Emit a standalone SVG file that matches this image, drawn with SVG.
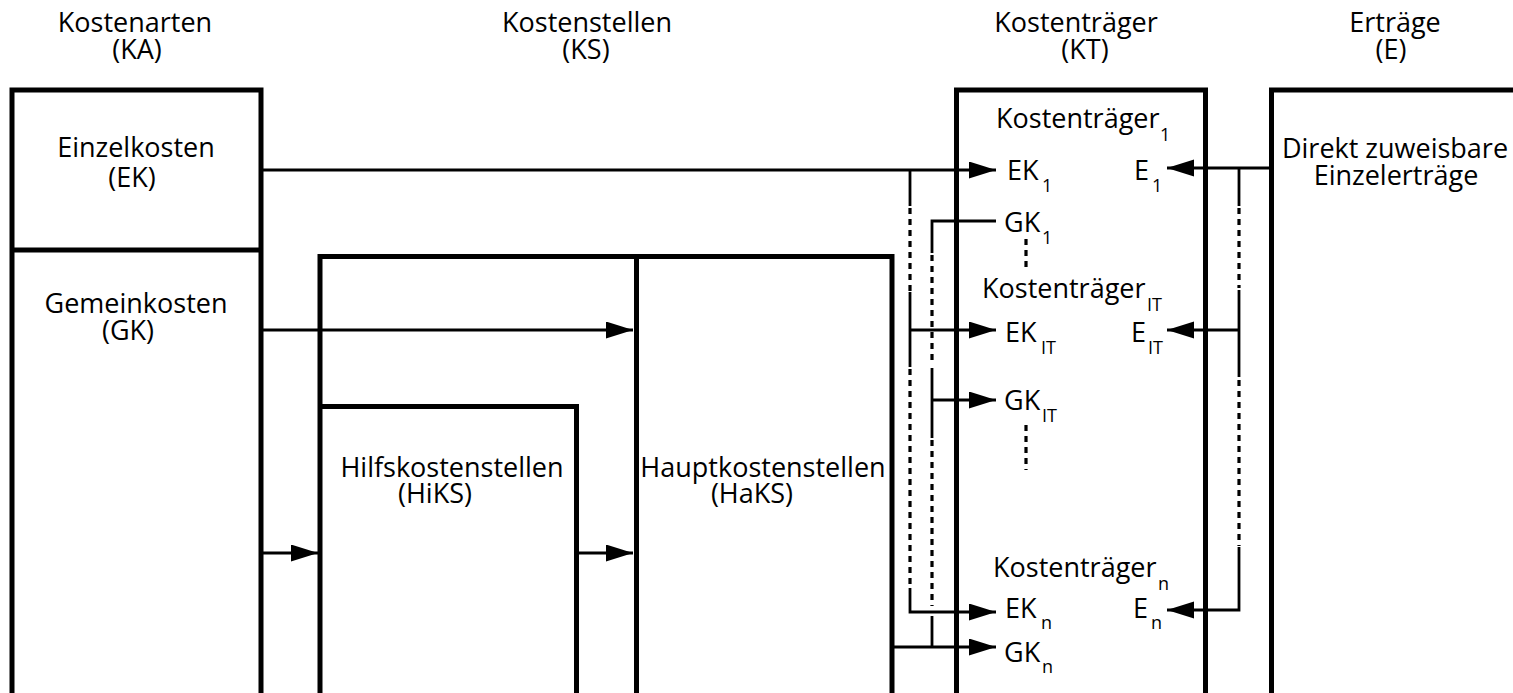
<svg xmlns="http://www.w3.org/2000/svg" width="1513" height="693" viewBox="0 0 1513 693">
<style>
text{font-family:"Open Sans","Noto Sans","Liberation Sans",sans-serif;fill:#000;font-size:27px}
.c{text-anchor:middle}
.sub{font-size:18px}
.box{fill:none;stroke:#000;stroke-width:5}
.ln{fill:none;stroke:#000;stroke-width:2.8}
.ds{fill:none;stroke:#000;stroke-width:3.2;stroke-dasharray:6 5}
</style>
<defs>
<marker id="ah" markerUnits="userSpaceOnUse" markerWidth="28" markerHeight="18" refX="27" refY="8.5" orient="auto">
<path d="M0,0 L27,8.5 L0,17 z" fill="#000"/>
</marker>
</defs>
<rect width="1513" height="693" fill="#fff"/>

<g id="headers">
<text class="c" x="135" y="32">Kostenarten</text>
<text class="c" x="137" y="59">(KA)</text>
<text class="c" x="587" y="32">Kostenstellen</text>
<text class="c" x="586" y="59">(KS)</text>
<text class="c" x="1076" y="32">Kostenträger</text>
<text class="c" x="1085" y="59">(KT)</text>
<text class="c" x="1395" y="32">Erträge</text>
<text class="c" x="1391" y="59">(E)</text>
</g>

<g id="ka">
<path class="box" d="M12,700 V90 H261 V700 M12,250 H261"/>
<text class="c" x="136" y="157">Einzelkosten</text>
<text class="c" x="132" y="187">(EK)</text>
<text class="c" x="136" y="313">Gemeinkosten</text>
<text class="c" x="128" y="340">(GK)</text>
</g>

<g id="ks">
<path class="box" d="M320,700 V256.5 H892 V700 M636.5,256.5 V700"/>
</g>
<g id="hiks">
<path class="box" d="M320,406.5 H576.5 V700"/>
<text class="c" x="452" y="477">Hilfskostenstellen</text>
<text class="c" x="435" y="503">(HiKS)</text>
</g>
<g id="haks">
<text class="c" x="763" y="477">Hauptkostenstellen</text>
<text class="c" x="752" y="503">(HaKS)</text>
</g>

<g id="kt">
<path class="box" d="M956.5,700 V90 H1205.5 V700"/>
<text x="996" y="128">Kostenträger</text><text class="sub" x="1160" y="141">1</text>
<text x="1007" y="180">EK</text><text class="sub" x="1042" y="192">1</text>
<text x="1134" y="180">E</text><text class="sub" x="1152" y="192">1</text>
<text x="1004" y="232">GK</text><text class="sub" x="1042" y="244">1</text>
<text x="982" y="298">Kostenträger</text><text class="sub" x="1147" y="311">IT</text>
<text x="1005" y="342">EK</text><text class="sub" x="1041" y="354">IT</text>
<text x="1131" y="342">E</text><text class="sub" x="1148" y="354">IT</text>
<text x="1004" y="410">GK</text><text class="sub" x="1042" y="422">IT</text>
<text x="993" y="577">Kostenträger</text><text class="sub" x="1158" y="590">n</text>
<text x="1005" y="618">EK</text><text class="sub" x="1041" y="629">n</text>
<text x="1133" y="618">E</text><text class="sub" x="1151" y="629">n</text>
<text x="1004" y="662">GK</text><text class="sub" x="1042" y="673">n</text>
<path class="ds" d="M1026,239 V272 M1026,425 V470"/>
</g>

<g id="e">
<path class="box" d="M1271.5,700 V90 H1520"/>
<text class="c" x="1395" y="158">Direkt zuweisbare</text>
<text class="c" x="1396" y="185">Einzelerträge</text>
</g>

<g id="connectors">
<path class="ln" d="M261,170 H996" marker-end="url(#ah)"/>
<path class="ln" d="M261,330 H633" marker-end="url(#ah)"/>
<path class="ln" d="M261,553 H318" marker-end="url(#ah)"/>
<path class="ln" d="M577,553 H633" marker-end="url(#ah)"/>
<path class="ln" d="M910,170 V206 M910,292 V367"/>
<path class="ds" d="M910,208 V291 M910,369 V587"/>
<path class="ln" d="M910,588 V612 H996" marker-end="url(#ah)"/>
<path class="ln" d="M910,330 H996" marker-end="url(#ah)"/>
<path class="ln" d="M996,221 H932 V253"/>
<path class="ds" d="M932,255 V364 M932,440 V606"/>
<path class="ln" d="M932,368 V438 M932,616 V647"/>
<path class="ln" d="M932,400 H996" marker-end="url(#ah)"/>
<path class="ln" d="M892,647 H996" marker-end="url(#ah)"/>
<path class="ln" d="M1271,168 H1167" marker-end="url(#ah)"/>
<path class="ln" d="M1239,168 V206 M1239,290 V377"/>
<path class="ds" d="M1239,208 V288 M1239,380 V546"/>
<path class="ln" d="M1239,547 V610 H1167" marker-end="url(#ah)"/>
<path class="ln" d="M1239,330 H1167" marker-end="url(#ah)"/>
</g>
</svg>
